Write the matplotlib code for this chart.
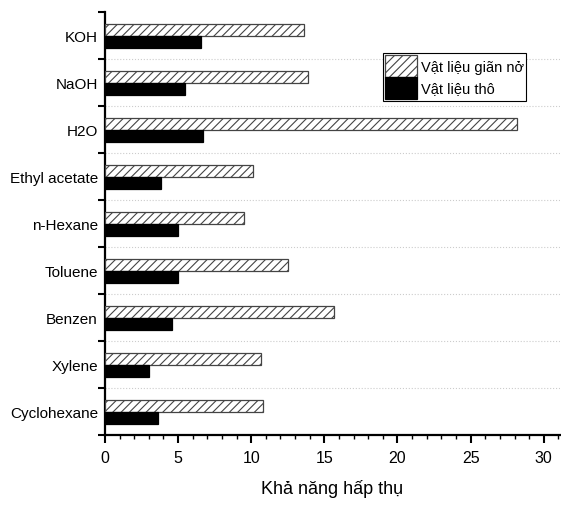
import numpy as np
import matplotlib
matplotlib.use("Agg")
import matplotlib.pyplot as plt
from matplotlib.ticker import MultipleLocator

plt.rcParams['font.family'] = ['Liberation Sans', 'DejaVu Sans']
plt.rcParams['hatch.color'] = '#333333'
plt.rcParams['hatch.linewidth'] = 0.8

# data, top to bottom
solvents = ['KOH', 'NaOH', 'H2O', 'Ethyl acetate', 'n-Hexane',
            'Toluene', 'Benzen', 'Xylene', 'Cyclohexane']
expanded = [13.6, 13.9, 28.2, 10.1, 9.5, 12.5, 15.65, 10.7, 10.8]
raw = [6.55, 5.45, 6.7, 3.85, 5.0, 5.0, 4.6, 3.0, 3.65]

fig = plt.figure(figsize=(5.61, 5.06), dpi=100)
ax = fig.add_axes([0.187, 0.138, 0.811, 0.836])

y = np.arange(len(solvents))
h = 0.255
ax.barh(y - h / 2, expanded, height=h, color='white', edgecolor='#444444',
        hatch='////', linewidth=0.9, label='Vật liệu giãn nở', zorder=3)
ax.barh(y + h / 2, raw, height=h, color='black', edgecolor='black',
        linewidth=0.9, label='Vật liệu thô', zorder=3)

ax.set_ylim(len(solvents) - 0.5, -0.5)
ax.set_xlim(0, 31.1)

# category boundaries get the tick marks and dotted lines
ax.set_yticks(np.arange(-0.5, len(solvents) + 0.5, 1.0))
ax.set_yticklabels([])
ax.set_yticks(y, minor=True)
ax.set_yticklabels(solvents, minor=True, fontsize=11)
ax.tick_params(axis='y', which='minor', length=0, pad=5)
ax.tick_params(axis='y', which='major', length=5, width=1.5, direction='out')
ax.grid(axis='y', which='major', color='#cccccc', linestyle=':', linewidth=0.8, zorder=0)
ax.get_ygridlines()[0].set_visible(False)

ax.xaxis.set_major_locator(MultipleLocator(5))
ax.xaxis.set_minor_locator(MultipleLocator(1))
ax.tick_params(axis='x', which='major', length=6, width=1.5, direction='out',
               labelsize=11.5, pad=5)
ax.tick_params(axis='x', which='minor', length=3, width=1.0, direction='out')

for side in ['top', 'right']:
    ax.spines[side].set_visible(False)
for side in ['left', 'bottom']:
    ax.spines[side].set_linewidth(1.6)

ax.set_xlabel('Khả năng hấp thụ', fontsize=13, labelpad=10)

leg = ax.legend(loc='upper left', bbox_to_anchor=(0.611, 0.903), fontsize=10.5,
                frameon=True, fancybox=False, edgecolor='black', framealpha=1,
                handlelength=2.2, handleheight=1.9, labelspacing=0.0,
                handletextpad=0.25, borderpad=0.15, borderaxespad=0)
leg.get_frame().set_linewidth(0.8)

fig.savefig('out.png', dpi=100)
